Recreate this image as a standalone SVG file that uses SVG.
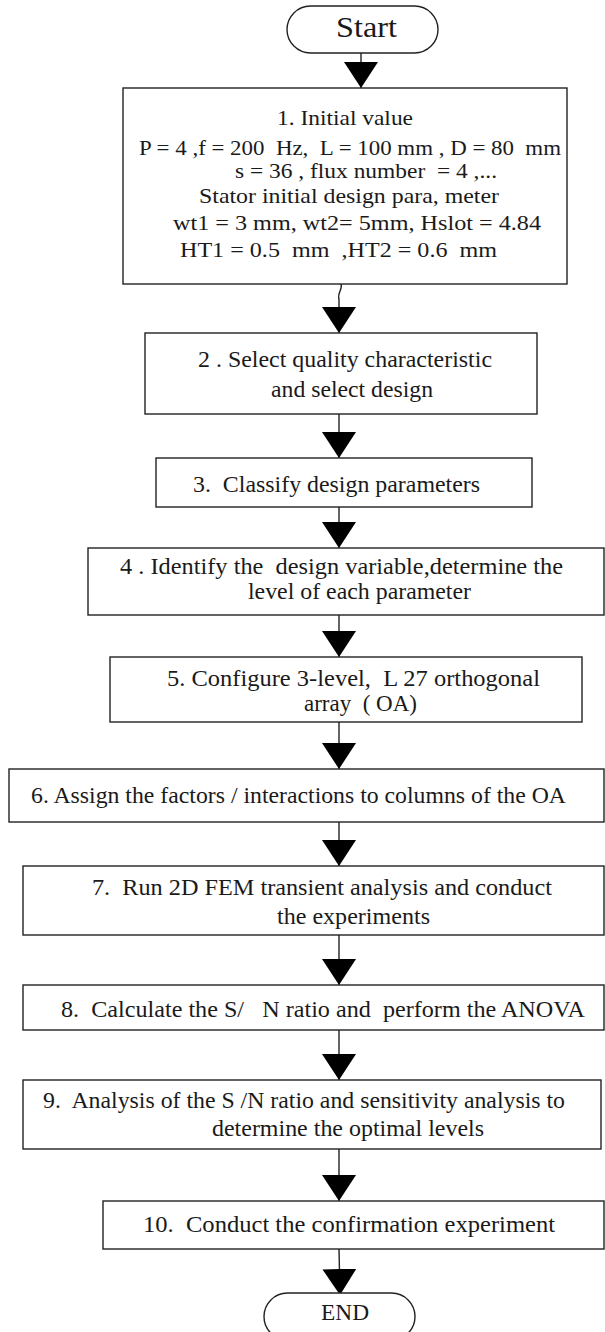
<svg xmlns="http://www.w3.org/2000/svg" width="605" height="1332" viewBox="0 0 605 1332">
<style>
.box{fill:#fff;stroke:#222;stroke-width:1.4}
.t{font-family:"Liberation Serif","Times New Roman",serif;font-size:23px;fill:#1a1a1a;white-space:pre}
.t1{font-size:22px}
.term{font-family:"Liberation Serif","Times New Roman",serif;fill:#1a1a1a}
.conn{fill:none;stroke:#222;stroke-width:1.4}
</style>
<defs>
<marker id="tri" viewBox="0 0 26 34" refX="26" refY="17" markerWidth="26" markerHeight="34" markerUnits="userSpaceOnUse" orient="auto">
<path d="M0,0 L26,17 L0,34 Z" fill="#000"/>
</marker>
</defs>
<rect width="605" height="1332" fill="#fff"/>

<g id="connectors">
<path class="conn" d="M361,53 L361,88" marker-end="url(#tri)"/>
<path class="conn" d="M341,284 C343,289 337,293 339,299 L339,333" marker-end="url(#tri)"/>
<path class="conn" d="M339,414 L339,458" marker-end="url(#tri)"/>
<path class="conn" d="M339,507 L339,548" marker-end="url(#tri)"/>
<path class="conn" d="M339,615 L339,657" marker-end="url(#tri)"/>
<path class="conn" d="M339,722 L339,769" marker-end="url(#tri)"/>
<path class="conn" d="M339,822 L339,866" marker-end="url(#tri)"/>
<path class="conn" d="M339,935 L339,985" marker-end="url(#tri)"/>
<path class="conn" d="M339,1030 L339,1080" marker-end="url(#tri)"/>
<path class="conn" d="M339,1149 L339,1201" marker-end="url(#tri)"/>
<path class="conn" d="M339,1249 L340,1295" marker-end="url(#tri)"/>
</g>

<g id="start">
<rect class="box" x="287" y="6" width="151" height="47" rx="23.5" ry="23.5"/>
<text class="term" x="336" y="37" font-size="30" textLength="61" lengthAdjust="spacingAndGlyphs">Start</text>
</g>

<g id="step1">
<rect class="box" x="123" y="88" width="444" height="196"/>
<text class="t t1" x="277" y="125" textLength="136" lengthAdjust="spacingAndGlyphs">1. Initial value</text>
<text class="t t1" x="139" y="155" textLength="422" lengthAdjust="spacingAndGlyphs">P = 4 ,f = 200  Hz,  L = 100 mm , D = 80  mm</text>
<text class="t t1" x="235" y="178" textLength="262" lengthAdjust="spacingAndGlyphs">s = 36 , flux number  = 4 ,...</text>
<text class="t t1" x="199" y="203" textLength="300" lengthAdjust="spacingAndGlyphs">Stator initial design para, meter</text>
<text class="t t1" x="173" y="230" textLength="368" lengthAdjust="spacingAndGlyphs">wt1 = 3 mm, wt2= 5mm, Hslot = 4.84</text>
<text class="t t1" x="180" y="257" textLength="317" lengthAdjust="spacingAndGlyphs">HT1 = 0.5  mm  ,HT2 = 0.6  mm</text>
</g>

<g id="step2">
<rect class="box" x="145" y="333" width="392" height="81"/>
<text class="t" x="198" y="367" textLength="294" lengthAdjust="spacingAndGlyphs">2 . Select quality characteristic</text>
<text class="t" x="271" y="397" textLength="162" lengthAdjust="spacingAndGlyphs">and select design</text>
</g>

<g id="step3">
<rect class="box" x="156" y="458" width="376" height="49"/>
<text class="t" x="193" y="492" textLength="287" lengthAdjust="spacingAndGlyphs">3.  Classify design parameters</text>
</g>

<g id="step4">
<rect class="box" x="88" y="548" width="516" height="67"/>
<text class="t" x="120" y="574" textLength="443" lengthAdjust="spacingAndGlyphs">4 . Identify the  design variable,determine the</text>
<text class="t" x="248" y="599" textLength="223" lengthAdjust="spacingAndGlyphs">level of each parameter</text>
</g>

<g id="step5">
<rect class="box" x="110" y="657" width="472" height="65"/>
<text class="t" x="167" y="686" textLength="373" lengthAdjust="spacingAndGlyphs">5. Configure 3-level,  L 27 orthogonal</text>
<text class="t" x="304" y="711" textLength="113" lengthAdjust="spacingAndGlyphs">array  ( OA)</text>
</g>

<g id="step6">
<rect class="box" x="9" y="769" width="595" height="53"/>
<text class="t" x="31" y="803" textLength="535" lengthAdjust="spacingAndGlyphs">6. Assign the factors / interactions to columns of the OA</text>
</g>

<g id="step7">
<rect class="box" x="23" y="866" width="581" height="69"/>
<text class="t" x="92" y="895" textLength="460" lengthAdjust="spacingAndGlyphs">7.  Run 2D FEM transient analysis and conduct</text>
<text class="t" x="277" y="924" textLength="153" lengthAdjust="spacingAndGlyphs">the experiments</text>
</g>

<g id="step8">
<rect class="box" x="23" y="985" width="581" height="45"/>
<text class="t" x="61" y="1017" textLength="524" lengthAdjust="spacingAndGlyphs">8.  Calculate the S/   N ratio and  perform the ANOVA</text>
</g>

<g id="step9">
<rect class="box" x="23" y="1080" width="578" height="69"/>
<text class="t" x="43" y="1108" textLength="522" lengthAdjust="spacingAndGlyphs">9.  Analysis of the S /N ratio and sensitivity analysis to</text>
<text class="t" x="212" y="1136" textLength="272" lengthAdjust="spacingAndGlyphs">determine the optimal levels</text>
</g>

<g id="step10">
<rect class="box" x="103" y="1201" width="501" height="48"/>
<text class="t" x="143" y="1232" textLength="412" lengthAdjust="spacingAndGlyphs">10.  Conduct the confirmation experiment</text>
</g>

<g id="end">
<rect class="box" x="264" y="1293" width="151" height="47" rx="23.5" ry="23.5"/>
<text class="term" x="321" y="1320" font-size="23" textLength="48" lengthAdjust="spacingAndGlyphs">END</text>
</g>
</svg>
